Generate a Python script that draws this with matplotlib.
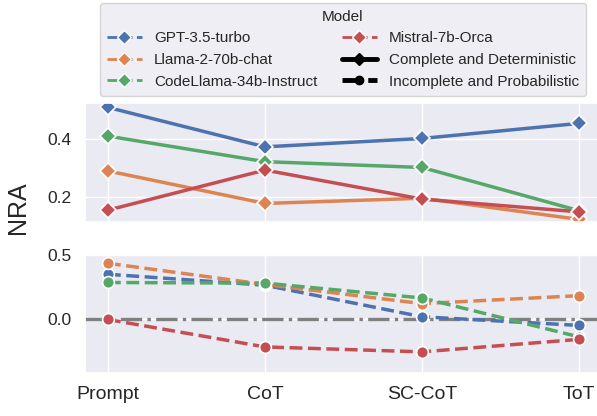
import numpy as np
import matplotlib
matplotlib.use("Agg")
import matplotlib.pyplot as plt
from matplotlib.lines import Line2D
import seaborn as sns

# data
methods = ["Prompt", "CoT", "SC-CoT", "ToT"]
models = ["GPT-3.5-turbo", "Llama-2-70b-chat", "CodeLlama-34b-Instruct", "Mistral-7b-Orca"]

# complete and deterministic (top panel)
cd_gpt = [0.510, 0.374, 0.403, 0.455]
cd_llama = [0.291, 0.179, 0.197, 0.124]
cd_codellama = [0.411, 0.323, 0.303, 0.154]
cd_mistral = [0.156, 0.294, 0.194, 0.150]

# incomplete and probabilistic (bottom panel)
ip_gpt = [0.351, 0.266, 0.021, -0.046]
ip_llama = [0.436, 0.272, 0.123, 0.185]
ip_codellama = [0.287, 0.282, 0.167, -0.135]
ip_mistral = [0.0, -0.213, -0.251, -0.154]

sns.set_theme(style="darkgrid")
plt.rcParams["font.family"] = ["Liberation Sans", "DejaVu Sans"]
colors = sns.color_palette("deep", 4)

fig = plt.figure(figsize=(5.97, 4.16), dpi=100)
ax_top = fig.add_axes([0.1424, 0.4663, 0.866, 0.286])
ax_bot = fig.add_axes([0.1424, 0.1034, 0.866, 0.286], sharex=ax_top)

x = np.arange(len(methods))
top_series = [cd_gpt, cd_llama, cd_codellama, cd_mistral]
bot_series = [ip_gpt, ip_llama, ip_codellama, ip_mistral]

for vals, c in zip(top_series, colors):
    ax_top.plot(x, vals, color=c, lw=2.5, marker="D", ms=8,
                markeredgecolor="white", markeredgewidth=1.2)
for vals, c in zip(bot_series, colors):
    ax_bot.plot(x, vals, color=c, lw=2.5, ls="--", marker="o", ms=8.5,
                markeredgecolor="white", markeredgewidth=1.2)

ax_bot.axhline(0, color="grey", lw=2.4, ls="-.", zorder=1.5)

ax_top.set_ylim(0.115, 0.525)
ax_top.set_yticks([0.2, 0.4])
ax_bot.set_ylim(-0.415, 0.508)
ax_bot.set_yticks([0.0, 0.5])
ax_bot.set_xlim(-0.146, 3.146)
ax_bot.set_xticks(x)
ax_bot.set_xticklabels(methods)
ax_top.tick_params(labelbottom=False)
for ax in (ax_top, ax_bot):
    ax.tick_params(axis="y", labelsize=12.5)
ax_bot.tick_params(axis="x", labelsize=14)

fig.text(0.03, 0.5, "NRA", rotation=90, fontsize=18, ha="center", va="center")

handles = []
labels = []
for name, c in zip(models, colors):
    handles.append(Line2D([], [], color=c, lw=2, ls="--", marker="D", ms=7,
                          markeredgecolor="white"))
    labels.append(name)
handles.append(Line2D([], [], color="black", lw=3.5, ls="-", marker="D", ms=6))
labels.append("Complete and Deterministic")
handles.append(Line2D([], [], color="black", lw=3.5, ls="--", marker="o", ms=6))
labels.append("Incomplete and Probabilistic")

fig.legend(handles, labels, title="Model", ncol=2, loc="upper center",
           bbox_to_anchor=(0.5745, 0.993), borderaxespad=0, fontsize=11,
           title_fontsize=11, frameon=True, columnspacing=1.6, handlelength=2.3,
           borderpad=0.45, labelspacing=0.5)

fig.savefig("out.png", dpi=100)
